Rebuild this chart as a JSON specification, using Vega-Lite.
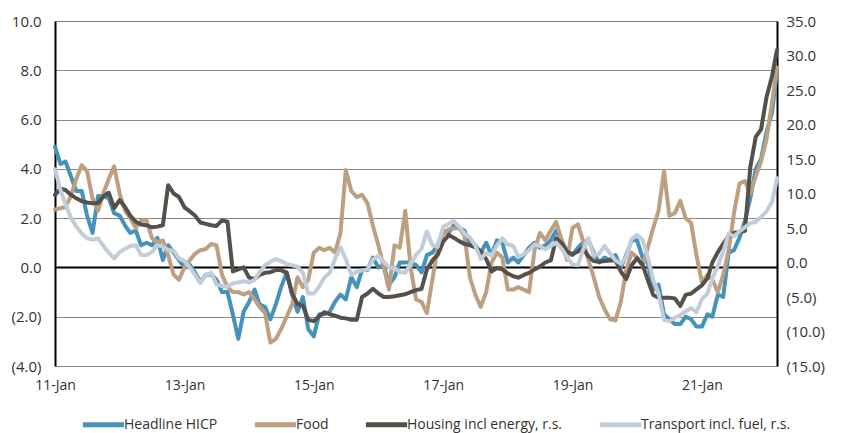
{
  "$schema": "https://vega.github.io/schema/vega-lite/v6.json",
  "width": 722,
  "height": 345,
  "autosize": {"type": "none"},
  "padding": {"left": 55, "top": 21, "right": 68, "bottom": 67},
  "background": "white",
  "config": {"view": {"stroke": null}, "font": "Open Sans"},
  "data": {"values": [
    {"date":"2011-01-01","headline":4.9,"food":2.35,"housing":9.8,"transport":13.5},
    {"date":"2011-02-01","headline":4.2,"food":2.4,"housing":10.7,"transport":10.5},
    {"date":"2011-03-01","headline":4.3,"food":2.45,"housing":10.5,"transport":8.5},
    {"date":"2011-04-01","headline":3.7,"food":2.9,"housing":9.8,"transport":6.5},
    {"date":"2011-05-01","headline":3.1,"food":3.6,"housing":9.3,"transport":5.2},
    {"date":"2011-06-01","headline":3.1,"food":4.15,"housing":8.9,"transport":4.2},
    {"date":"2011-07-01","headline":2.1,"food":3.9,"housing":8.7,"transport":3.5},
    {"date":"2011-08-01","headline":1.4,"food":2.8,"housing":8.6,"transport":3.3},
    {"date":"2011-09-01","headline":2.9,"food":2.3,"housing":8.6,"transport":3.5},
    {"date":"2011-10-01","headline":2.9,"food":3.0,"housing":9.6,"transport":2.4},
    {"date":"2011-11-01","headline":2.8,"food":3.6,"housing":10.1,"transport":1.4},
    {"date":"2011-12-01","headline":2.2,"food":4.1,"housing":7.9,"transport":0.6},
    {"date":"2012-01-01","headline":2.1,"food":3.0,"housing":9.05,"transport":1.5},
    {"date":"2012-02-01","headline":1.7,"food":2.3,"housing":8.0,"transport":2.0},
    {"date":"2012-03-01","headline":1.4,"food":2.0,"housing":6.8,"transport":2.4},
    {"date":"2012-04-01","headline":1.5,"food":1.6,"housing":5.9,"transport":2.5},
    {"date":"2012-05-01","headline":0.9,"food":1.9,"housing":5.5,"transport":1.1},
    {"date":"2012-06-01","headline":1.0,"food":1.9,"housing":5.4,"transport":1.1},
    {"date":"2012-07-01","headline":0.9,"food":1.2,"housing":5.1,"transport":1.5},
    {"date":"2012-08-01","headline":1.2,"food":1.0,"housing":5.2,"transport":2.5},
    {"date":"2012-09-01","headline":0.3,"food":1.1,"housing":5.4,"transport":2.3},
    {"date":"2012-10-01","headline":0.9,"food":0.5,"housing":11.2,"transport":1.8},
    {"date":"2012-11-01","headline":0.6,"food":-0.3,"housing":10.0,"transport":1.7},
    {"date":"2012-12-01","headline":0.3,"food":-0.5,"housing":9.5,"transport":0.6},
    {"date":"2013-01-01","headline":0.0,"food":0.0,"housing":8.0,"transport":0.2},
    {"date":"2013-02-01","headline":0.1,"food":0.3,"housing":7.4,"transport":-0.7},
    {"date":"2013-03-01","headline":-0.2,"food":0.55,"housing":6.8,"transport":-1.8},
    {"date":"2013-04-01","headline":-0.6,"food":0.7,"housing":5.8,"transport":-3.0},
    {"date":"2013-05-01","headline":-0.3,"food":0.75,"housing":5.6,"transport":-1.8},
    {"date":"2013-06-01","headline":-0.3,"food":0.95,"housing":5.4,"transport":-1.5},
    {"date":"2013-07-01","headline":-0.5,"food":0.9,"housing":5.3,"transport":-3.2},
    {"date":"2013-08-01","headline":-1.0,"food":-0.3,"housing":6.1,"transport":-3.4},
    {"date":"2013-09-01","headline":-1.0,"food":-0.8,"housing":5.9,"transport":-3.5},
    {"date":"2013-10-01","headline":-1.9,"food":-1.0,"housing":-1.3,"transport":-3.0},
    {"date":"2013-11-01","headline":-2.9,"food":-1.0,"housing":-1.0,"transport":-2.9},
    {"date":"2013-12-01","headline":-1.8,"food":-1.1,"housing":-0.7,"transport":-2.7},
    {"date":"2014-01-01","headline":-1.4,"food":-1.0,"housing":-2.2,"transport":-2.9},
    {"date":"2014-02-01","headline":-0.9,"food":-1.3,"housing":-2.4,"transport":-2.5},
    {"date":"2014-03-01","headline":-1.5,"food":-1.6,"housing":-1.8,"transport":-1.4},
    {"date":"2014-04-01","headline":-1.6,"food":-1.85,"housing":-1.5,"transport":-0.4},
    {"date":"2014-05-01","headline":-2.1,"food":-3.05,"housing":-1.4,"transport":0.1},
    {"date":"2014-06-01","headline":-1.5,"food":-2.9,"housing":-1.1,"transport":0.5},
    {"date":"2014-07-01","headline":-0.8,"food":-2.5,"housing":-1.1,"transport":0.2},
    {"date":"2014-08-01","headline":-0.2,"food":-2.0,"housing":-1.5,"transport":-0.2},
    {"date":"2014-09-01","headline":-1.1,"food":-1.5,"housing":-4.5,"transport":-0.4},
    {"date":"2014-10-01","headline":-1.8,"food":-0.4,"housing":-6.0,"transport":-0.6},
    {"date":"2014-11-01","headline":-1.2,"food":-0.8,"housing":-6.3,"transport":-1.5},
    {"date":"2014-12-01","headline":-2.5,"food":-0.5,"housing":-8.3,"transport":-4.5},
    {"date":"2015-01-01","headline":-2.8,"food":0.6,"housing":-8.5,"transport":-4.5},
    {"date":"2015-02-01","headline":-1.9,"food":0.8,"housing":-7.8,"transport":-3.5},
    {"date":"2015-03-01","headline":-1.9,"food":0.7,"housing":-7.2,"transport":-2.2},
    {"date":"2015-04-01","headline":-1.8,"food":0.8,"housing":-7.5,"transport":-1.5},
    {"date":"2015-05-01","headline":-1.4,"food":0.6,"housing":-7.7,"transport":0.5},
    {"date":"2015-06-01","headline":-1.1,"food":1.4,"housing":-8.0,"transport":2.2},
    {"date":"2015-07-01","headline":-1.3,"food":3.95,"housing":-8.1,"transport":0.5},
    {"date":"2015-08-01","headline":-0.4,"food":3.1,"housing":-8.3,"transport":-1.8},
    {"date":"2015-09-01","headline":-0.8,"food":2.85,"housing":-8.3,"transport":-1.3},
    {"date":"2015-10-01","headline":-0.1,"food":2.95,"housing":-5.0,"transport":-1.15},
    {"date":"2015-11-01","headline":-0.1,"food":2.6,"housing":-4.5,"transport":-1.0},
    {"date":"2015-12-01","headline":0.4,"food":1.7,"housing":-3.8,"transport":0.4},
    {"date":"2016-01-01","headline":0.0,"food":0.9,"housing":-4.5,"transport":1.0},
    {"date":"2016-02-01","headline":0.1,"food":0.0,"housing":-5.0,"transport":0.1},
    {"date":"2016-03-01","headline":-0.7,"food":-0.9,"housing":-5.0,"transport":-0.7},
    {"date":"2016-04-01","headline":-0.4,"food":0.9,"housing":-4.9,"transport":-0.8},
    {"date":"2016-05-01","headline":0.2,"food":0.8,"housing":-4.75,"transport":-1.4},
    {"date":"2016-06-01","headline":0.2,"food":2.3,"housing":-4.6,"transport":-1.5},
    {"date":"2016-07-01","headline":0.2,"food":0.0,"housing":-4.3,"transport":-0.2},
    {"date":"2016-08-01","headline":0.1,"food":-1.3,"housing":-4.0,"transport":1.1},
    {"date":"2016-09-01","headline":-0.2,"food":-1.4,"housing":-3.8,"transport":2.0},
    {"date":"2016-10-01","headline":0.5,"food":-1.85,"housing":-1.0,"transport":4.5},
    {"date":"2016-11-01","headline":0.6,"food":-0.5,"housing":0.3,"transport":2.5},
    {"date":"2016-12-01","headline":0.9,"food":0.8,"housing":1.1,"transport":2.3},
    {"date":"2017-01-01","headline":1.5,"food":1.35,"housing":3.0,"transport":5.2},
    {"date":"2017-02-01","headline":1.4,"food":1.55,"housing":4.0,"transport":5.6},
    {"date":"2017-03-01","headline":1.7,"food":1.58,"housing":3.6,"transport":6.0},
    {"date":"2017-04-01","headline":1.6,"food":1.6,"housing":3.1,"transport":5.2},
    {"date":"2017-05-01","headline":1.5,"food":1.3,"housing":2.7,"transport":4.2},
    {"date":"2017-06-01","headline":0.9,"food":-0.4,"housing":2.5,"transport":3.6},
    {"date":"2017-07-01","headline":0.9,"food":-1.1,"housing":2.2,"transport":2.5},
    {"date":"2017-08-01","headline":0.6,"food":-1.6,"housing":1.6,"transport":0.5},
    {"date":"2017-09-01","headline":1.0,"food":-1.0,"housing":0.5,"transport":1.4},
    {"date":"2017-10-01","headline":0.5,"food":0.2,"housing":-1.3,"transport":1.0},
    {"date":"2017-11-01","headline":1.1,"food":0.6,"housing":-0.8,"transport":2.5},
    {"date":"2017-12-01","headline":1.0,"food":0.4,"housing":-1.0,"transport":3.5},
    {"date":"2018-01-01","headline":0.2,"food":-0.9,"housing":-1.6,"transport":2.6},
    {"date":"2018-02-01","headline":0.4,"food":-0.9,"housing":-2.0,"transport":2.4},
    {"date":"2018-03-01","headline":0.2,"food":-0.8,"housing":-2.2,"transport":0.8},
    {"date":"2018-04-01","headline":0.5,"food":-0.9,"housing":-1.8,"transport":1.2},
    {"date":"2018-05-01","headline":0.8,"food":-1.0,"housing":-1.5,"transport":1.8},
    {"date":"2018-06-01","headline":1.0,"food":0.7,"housing":-1.0,"transport":2.6},
    {"date":"2018-07-01","headline":0.8,"food":1.4,"housing":-0.6,"transport":2.4},
    {"date":"2018-08-01","headline":0.9,"food":1.1,"housing":0.0,"transport":1.9},
    {"date":"2018-09-01","headline":1.1,"food":1.5,"housing":0.3,"transport":2.4},
    {"date":"2018-10-01","headline":1.5,"food":1.85,"housing":3.5,"transport":2.9},
    {"date":"2018-11-01","headline":1.1,"food":1.1,"housing":2.8,"transport":2.0},
    {"date":"2018-12-01","headline":0.6,"food":0.3,"housing":1.6,"transport":0.8},
    {"date":"2019-01-01","headline":0.5,"food":1.6,"housing":1.2,"transport":-0.3},
    {"date":"2019-02-01","headline":0.8,"food":1.75,"housing":1.6,"transport":-0.4},
    {"date":"2019-03-01","headline":1.0,"food":1.1,"housing":2.1,"transport":1.8},
    {"date":"2019-04-01","headline":1.1,"food":0.3,"housing":0.9,"transport":3.5},
    {"date":"2019-05-01","headline":0.6,"food":-0.4,"housing":0.2,"transport":1.0},
    {"date":"2019-06-01","headline":0.2,"food":-1.2,"housing":0.1,"transport":1.3},
    {"date":"2019-07-01","headline":0.4,"food":-1.7,"housing":0.2,"transport":2.4},
    {"date":"2019-08-01","headline":0.3,"food":-2.1,"housing":0.3,"transport":1.3},
    {"date":"2019-09-01","headline":0.5,"food":-2.15,"housing":0.3,"transport":0.3},
    {"date":"2019-10-01","headline":0.0,"food":-1.4,"housing":-1.3,"transport":-0.2},
    {"date":"2019-11-01","headline":0.5,"food":-0.1,"housing":-2.4,"transport":0.8},
    {"date":"2019-12-01","headline":1.1,"food":0.6,"housing":-0.4,"transport":3.4},
    {"date":"2020-01-01","headline":1.1,"food":0.4,"housing":0.6,"transport":4.0},
    {"date":"2020-02-01","headline":0.4,"food":0.05,"housing":-0.3,"transport":3.3},
    {"date":"2020-03-01","headline":0.2,"food":0.8,"housing":-2.5,"transport":0.8},
    {"date":"2020-04-01","headline":-0.9,"food":1.6,"housing":-4.7,"transport":-2.5},
    {"date":"2020-05-01","headline":-0.7,"food":2.3,"housing":-5.1,"transport":-4.5},
    {"date":"2020-06-01","headline":-1.9,"food":3.9,"housing":-5.1,"transport":-8.3},
    {"date":"2020-07-01","headline":-2.1,"food":2.1,"housing":-5.1,"transport":-8.5},
    {"date":"2020-08-01","headline":-2.3,"food":2.2,"housing":-5.2,"transport":-8.0},
    {"date":"2020-09-01","headline":-2.3,"food":2.7,"housing":-6.3,"transport":-7.6},
    {"date":"2020-10-01","headline":-2.0,"food":2.0,"housing":-4.7,"transport":-7.1},
    {"date":"2020-11-01","headline":-2.1,"food":1.8,"housing":-4.5,"transport":-6.6},
    {"date":"2020-12-01","headline":-2.4,"food":0.5,"housing":-3.9,"transport":-7.2},
    {"date":"2021-01-01","headline":-2.4,"food":-0.6,"housing":-3.3,"transport":-5.3},
    {"date":"2021-02-01","headline":-1.9,"food":-0.3,"housing":-2.3,"transport":-4.5},
    {"date":"2021-03-01","headline":-2.0,"food":-0.5,"housing":0.0,"transport":-2.3},
    {"date":"2021-04-01","headline":-1.1,"food":-1.0,"housing":1.5,"transport":-0.5},
    {"date":"2021-05-01","headline":-1.2,"food":-0.3,"housing":2.7,"transport":1.5},
    {"date":"2021-06-01","headline":0.6,"food":0.7,"housing":3.8,"transport":4.2},
    {"date":"2021-07-01","headline":0.7,"food":2.2,"housing":4.3,"transport":3.8},
    {"date":"2021-08-01","headline":1.2,"food":3.4,"housing":4.4,"transport":4.5},
    {"date":"2021-09-01","headline":1.9,"food":3.5,"housing":4.6,"transport":5.1},
    {"date":"2021-10-01","headline":2.8,"food":3.0,"housing":13.8,"transport":5.7},
    {"date":"2021-11-01","headline":4.0,"food":3.7,"housing":18.2,"transport":5.9},
    {"date":"2021-12-01","headline":4.4,"food":4.3,"housing":19.3,"transport":6.6},
    {"date":"2022-01-01","headline":5.5,"food":5.2,"housing":24.0,"transport":7.4},
    {"date":"2022-02-01","headline":6.3,"food":6.7,"housing":27.0,"transport":8.8},
    {"date":"2022-03-01","headline":8.0,"food":8.1,"housing":30.8,"transport":12.2}
  ]},
  "encoding": {
    "x": {
      "field": "date", "type": "temporal",
      "scale": {"type": "utc", "nice": false, "domain": [{"year": 2011, "month": 1, "date": 1, "utc": true}, {"year": 2022, "month": 3, "date": 1, "utc": true}]},
      "axis": {
        "title": null, "grid": false, "domain": false, "ticks": false,
        "values": [
          {"year": 2011, "month": 1, "date": 1, "utc": true},
          {"year": 2013, "month": 1, "date": 1, "utc": true},
          {"year": 2015, "month": 1, "date": 1, "utc": true},
          {"year": 2017, "month": 1, "date": 1, "utc": true},
          {"year": 2019, "month": 1, "date": 1, "utc": true},
          {"year": 2021, "month": 1, "date": 1, "utc": true}
        ],
        "labelExpr": "utcFormat(datum.value, '%y-%b')",
        "labelFlush": false, "labelOverlap": false,
        "labelFontSize": 14, "labelColor": "#333333", "labelPadding": 12
      }
    },
    "color": {
      "type": "nominal",
      "scale": {
        "domain": ["Headline HICP", "Food", "Housing incl energy, r.s.", "Transport incl. fuel, r.s."],
        "range": ["#4592BA", "#BD9F82", "#55504A", "#C3CCD9"]
      },
      "legend": {
        "title": null, "orient": "none", "direction": "horizontal",
        "legendX": 25, "legendY": 380, "padding": 0,
        "symbolType": "stroke", "symbolStrokeWidth": 5, "symbolSize": 1700,
        "labelFontSize": 14, "labelColor": "#333333", "labelOffset": -3,
        "columnPadding": 26
      }
    }
  },
  "layer": [
    {
      "layer": [
        {
          "mark": {"type": "line", "strokeWidth": 4, "strokeJoin": "round", "strokeCap": "round"},
          "encoding": {
            "y": {
              "field": "headline", "type": "quantitative",
              "scale": {"domain": [-4, 10], "nice": false, "zero": false},
              "axis": {
                "orient": "left", "title": null, "values": [-4, -2, 0, 2, 4, 6, 8, 10],
                "labelExpr": "datum.value < 0 ? '(' + format(-datum.value, '.1f') + ')' : format(datum.value, '.1f')",
                "labelFontSize": 15, "labelColor": "#333333", "labelPadding": 14,
                "domain": true, "domainColor": "#000000", "domainWidth": 2, "ticks": false,
                "grid": true,
                "gridColor": {"condition": {"test": "datum.value === 0", "value": "#000000"}, "value": "#8a8a8a"},
                "gridWidth": {"condition": {"test": "datum.value === 0", "value": 2}, "value": 1.2}
              }
            },
            "color": {"datum": "Headline HICP"}
          }
        },
        {
          "mark": {"type": "line", "strokeWidth": 4, "strokeJoin": "round", "strokeCap": "round"},
          "encoding": {
            "y": {
              "field": "food", "type": "quantitative",
              "scale": {"domain": [-4, 10], "nice": false, "zero": false},
              "axis": {
                "orient": "left", "title": null, "values": [-4, -2, 0, 2, 4, 6, 8, 10],
                "labelExpr": "datum.value < 0 ? '(' + format(-datum.value, '.1f') + ')' : format(datum.value, '.1f')",
                "labelFontSize": 15, "labelColor": "#333333", "labelPadding": 14,
                "domain": true, "domainColor": "#000000", "domainWidth": 2, "ticks": false,
                "grid": true,
                "gridColor": {"condition": {"test": "datum.value === 0", "value": "#000000"}, "value": "#8a8a8a"},
                "gridWidth": {"condition": {"test": "datum.value === 0", "value": 2}, "value": 1.2}
              }
            },
            "color": {"datum": "Food"}
          }
        }
      ]
    },
    {
      "layer": [
        {
          "mark": {"type": "line", "strokeWidth": 4, "strokeJoin": "round", "strokeCap": "round"},
          "encoding": {
            "y": {
              "field": "housing", "type": "quantitative",
              "scale": {"domain": [-15, 35], "nice": false, "zero": false},
              "axis": {
                "orient": "right", "title": null, "values": [-15, -10, -5, 0, 5, 10, 15, 20, 25, 30, 35],
                "labelExpr": "datum.value < 0 ? '(' + format(-datum.value, '.1f') + ')' : format(datum.value, '.1f')",
                "labelFontSize": 15, "labelColor": "#333333", "labelPadding": 9,
                "domain": true, "domainColor": "#000000", "domainWidth": 2, "ticks": false, "grid": false
              }
            },
            "color": {"datum": "Housing incl energy, r.s."}
          }
        },
        {
          "mark": {"type": "line", "strokeWidth": 4, "strokeJoin": "round", "strokeCap": "round"},
          "encoding": {
            "y": {
              "field": "transport", "type": "quantitative",
              "scale": {"domain": [-15, 35], "nice": false, "zero": false},
              "axis": {
                "orient": "right", "title": null, "values": [-15, -10, -5, 0, 5, 10, 15, 20, 25, 30, 35],
                "labelExpr": "datum.value < 0 ? '(' + format(-datum.value, '.1f') + ')' : format(datum.value, '.1f')",
                "labelFontSize": 15, "labelColor": "#333333", "labelPadding": 9,
                "domain": true, "domainColor": "#000000", "domainWidth": 2, "ticks": false, "grid": false
              }
            },
            "color": {"datum": "Transport incl. fuel, r.s."}
          }
        }
      ]
    }
  ],
  "resolve": {"scale": {"y": "independent"}}
}
